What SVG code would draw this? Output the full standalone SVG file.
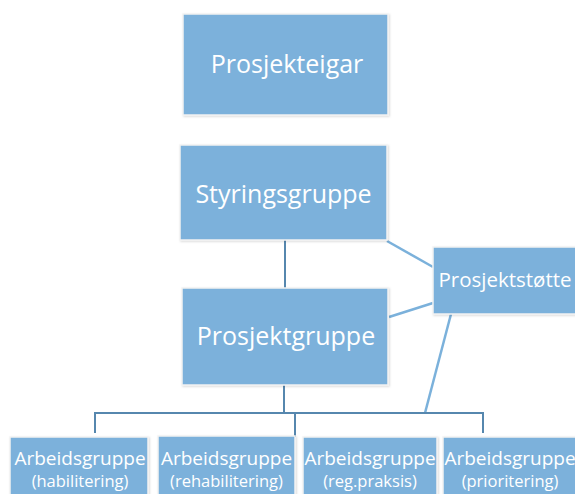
<svg xmlns="http://www.w3.org/2000/svg" width="575" height="494" viewBox="0 0 575 494">
<defs>
<filter id="sh" x="-10%" y="-10%" width="120%" height="120%"><feDropShadow dx="1" dy="1" stdDeviation="1" flood-color="#000" flood-opacity="0.15"/></filter>
</defs>
<style>
.box{fill:#7BB1DB;stroke:#F2F2F2;stroke-width:1.5;filter:url(#sh)}
.t{fill:#fff;font-family:"Open Sans","Noto Sans",sans-serif;text-anchor:middle}
.big{font-size:25px}
.mid{font-size:19px}
.ps{font-size:20.5px}
.sm{font-size:16.5px}
.bus{stroke:#5687AE;stroke-width:2;fill:none}
.diag{stroke:#7BB1DB;stroke-width:2.5;fill:none}
</style>
<rect width="575" height="494" fill="#fff"/>
<g id="connectors">
<line class="bus" x1="285" y1="240" x2="285" y2="288"/>
<line class="diag" x1="387" y1="241" x2="433" y2="267"/>
<line class="diag" x1="389" y1="317" x2="433" y2="303"/>
<line class="diag" x1="451" y1="314" x2="425" y2="413"/>
<polyline class="bus" points="95,433 95,413 483,413 483,433"/>
<line class="bus" x1="284" y1="385" x2="284" y2="413"/>
<line class="bus" x1="295" y1="413" x2="295" y2="437"/>
</g>
<g id="prosjekteigar">
<rect class="box" x="183" y="14" width="205" height="101"/>
<text class="t big" x="287" y="73">Prosjekteigar</text>
</g>
<g id="styringsgruppe">
<rect class="box" x="180" y="145" width="207" height="95"/>
<text class="t big" x="283.5" y="203">Styringsgruppe</text>
</g>
<g id="prosjektgruppe">
<rect class="box" x="182" y="288" width="206" height="97"/>
<text class="t big" x="286" y="345">Prosjektgruppe</text>
</g>
<g id="prosjektstotte">
<rect class="box" x="433" y="247" width="150" height="67"/>
<text class="t ps" x="505" y="287">Prosjektstøtte</text>
</g>
<g id="ag1">
<rect class="box" x="10" y="437" width="138" height="70"/>
<text class="t mid" x="80" y="465">Arbeidsgruppe</text>
<text class="t sm" x="80" y="487">(habilitering)</text>
</g>
<g id="ag2">
<rect class="box" x="158" y="436" width="137" height="70"/>
<text class="t mid" x="226.5" y="465">Arbeidsgruppe</text>
<text class="t sm" x="226.5" y="487">(rehabilitering)</text>
</g>
<g id="ag3">
<rect class="box" x="303" y="437" width="134" height="70"/>
<text class="t mid" x="370" y="465">Arbeidsgruppe</text>
<text class="t sm" x="370" y="487">(reg.praksis)</text>
</g>
<g id="ag4">
<rect class="box" x="443" y="437" width="140" height="70"/>
<text class="t mid" x="510" y="465">Arbeidsgruppe</text>
<text class="t sm" x="510" y="487">(prioritering)</text>
</g>
</svg>
